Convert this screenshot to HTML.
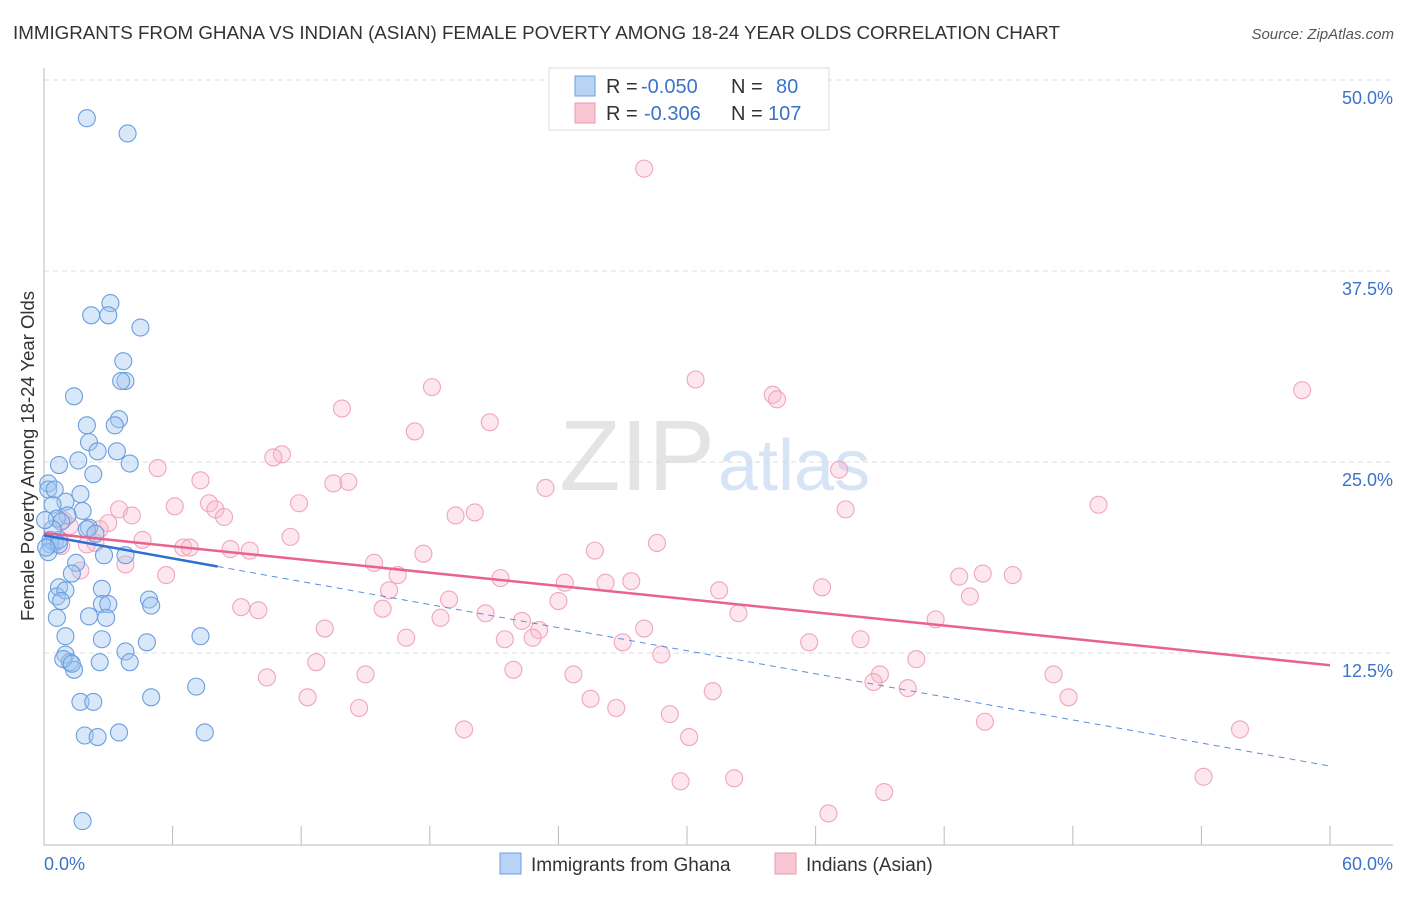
<!DOCTYPE html>
<html><head><meta charset="utf-8">
<style>
body{margin:0;background:#fff;font-family:"Liberation Sans",sans-serif;}
svg text{font-family:"Liberation Sans",sans-serif;}
</style></head>
<body>
<svg id="chart" width="1406" height="892" viewBox="0 0 1406 892" xmlns="http://www.w3.org/2000/svg">
<text x="13" y="39" font-size="18.8" fill="#333" textLength="1047">IMMIGRANTS FROM GHANA VS INDIAN (ASIAN) FEMALE POVERTY AMONG 18-24 YEAR OLDS CORRELATION CHART</text>
<text x="1394" y="39" font-size="15" font-style="italic" fill="#555" text-anchor="end">Source: ZipAtlas.com</text>
<text x="715" y="490" font-size="100" fill="#e4e4e4" text-anchor="end" font-family="Liberation Serif">ZIP</text>
<text x="718" y="490" font-size="72" fill="#d6e4f5">atlas</text>
<g id="grid"></g>
<g id="axes"></g>
<g id="pinkPts"></g>
<g id="bluePts"></g>
<g id="trends"></g>
<text transform="translate(34,456) rotate(-90)" font-size="18.5" fill="#333" text-anchor="middle">Female Poverty Among 18-24 Year Olds</text>
<g>
<rect x="549" y="68" width="280" height="62" fill="#fff" stroke="#ddd"/>
<rect x="575" y="76" width="20" height="20" fill="#b8d3f3" stroke="#6a9fe0"/>
<rect x="575" y="103" width="20" height="20" fill="#f9c6d4" stroke="#ea9ab4"/>
<text x="606" y="93" font-size="20" fill="#333">R = <tspan x="641" fill="#3b73c9">-0.050</tspan><tspan x="731">N = </tspan><tspan x="776" fill="#3b73c9">80</tspan></text>
<text x="606" y="120" font-size="20" fill="#333">R = <tspan x="644" fill="#3b73c9">-0.306</tspan><tspan x="731">N = </tspan><tspan x="768" fill="#3b73c9">107</tspan></text>
</g>
<g>
<rect x="500" y="853" width="21" height="21" fill="#b8d3f3" stroke="#6a9fe0"/>
<text x="531" y="871" font-size="19" fill="#333">Immigrants from Ghana</text>
<rect x="775" y="853" width="21" height="21" fill="#f9c6d4" stroke="#ea9ab4"/>
<text x="806" y="871" font-size="19" fill="#333">Indians (Asian)</text>
</g>
</svg>
<script>
const xTicks=[0,60];
const xTickLabels=["0.0%","60.0%"];
const yTicks=[12.5,25,37.5,50];
const yTickLabels=["12.5%","25.0%","37.5%","50.0%"];
const blueX=[2.0,3.9,3.1,2.2,3.0,4.5,3.7,3.8,3.6,1.4,2.0,3.5,3.3,2.1,2.5,3.4,1.6,0.7,4.0,2.3,0.2,0.2,1.7,1.0,0.4,1.8,1.1,0.6,0.8,2.1,2.0,2.4,0.3,0.5,0.3,0.7,3.8,2.8,1.5,1.3,0.7,0.6,1.0,2.7,0.8,2.7,3.0,4.9,5.0,2.1,0.6,2.9,1.0,2.7,4.8,7.3,1.0,3.8,1.2,1.4,2.6,4.0,1.7,2.3,5.0,7.1,1.9,2.5,3.5,7.5,1.8,0.2,0.4,0.05,0.9,1.3,0.7,0.1,0.5];
const blueY=[47.5,46.5,35.4,34.6,34.6,33.8,31.6,30.3,30.3,29.3,27.4,27.8,27.4,26.3,25.7,25.7,25.1,24.8,24.9,24.2,23.6,23.2,22.9,22.4,22.2,21.8,21.5,21.3,21.1,20.7,20.6,20.3,19.9,19.7,19.6,19.9,18.9,18.9,18.4,17.7,16.8,16.2,16.6,16.7,15.9,15.7,15.7,16.0,15.6,14.9,14.8,14.8,13.6,13.4,13.2,13.6,12.4,12.6,11.9,11.4,11.9,11.9,9.3,9.3,9.6,10.3,7.1,7.0,7.3,7.3,1.5,19.1,20.6,21.2,12.1,11.8,19.6,19.4,23.2];
const pinkX=[28.0,58.7,30.4,18.1,34.0,34.2,13.9,20.8,17.3,11.1,10.7,5.3,7.3,37.1,14.2,13.5,23.4,49.2,6.1,7.7,8.0,8.4,20.1,19.2,37.4,11.9,3.5,4.1,3.0,0.9,1.2,11.5,4.6,2.4,2.0,0.8,6.5,6.8,8.7,9.6,28.6,25.7,17.7,3.8,1.7,5.7,15.4,16.5,21.3,24.3,26.2,27.4,31.5,36.3,42.7,43.8,45.2,16.1,18.9,43.2,9.2,10.0,15.8,24.0,20.6,18.5,32.4,41.6,22.3,23.1,13.1,16.9,21.5,22.8,27.0,28.0,35.7,38.1,28.8,40.7,12.7,47.1,10.4,15.0,21.9,24.7,39.0,38.7,12.3,31.2,40.3,47.8,25.5,14.7,26.7,29.2,19.6,43.9,55.8,30.1,29.7,32.2,54.1,39.2,36.6,2.6];
const pinkY=[44.2,29.7,30.4,29.9,29.4,29.1,28.5,27.6,27.0,25.5,25.3,24.6,23.8,24.5,23.7,23.6,23.3,22.2,22.1,22.3,21.9,21.4,21.7,21.5,21.9,22.3,21.9,21.5,21.0,21.2,20.8,20.1,19.9,19.7,19.6,19.5,19.4,19.4,19.3,19.2,19.7,19.2,19.0,18.3,17.9,17.6,18.4,17.6,17.4,17.1,17.1,17.2,16.6,16.8,17.5,17.7,17.6,16.6,16.0,16.2,15.5,15.3,15.4,15.9,15.1,14.8,15.1,14.7,14.6,14.0,14.1,13.5,13.4,13.5,13.2,14.1,13.2,13.4,12.4,12.1,11.9,11.1,10.9,11.1,11.4,11.1,11.1,10.6,9.6,10.0,10.2,9.6,9.5,8.9,8.9,8.5,7.5,8.0,7.5,7.0,4.1,4.3,4.4,3.4,2.0,20.6];
const pinkTrend=[20.35,11.7];
const blueTrend=[20.2,5.1];
const blueSolidEnd=8.1;

const X0=44,X1=1330,Y0=844,YPX=15.28;
const sx=v=>X0+(v-xTicks[0])/(xTicks[1]-xTicks[0])*(X1-X0);
const sy=v=>Y0-v*YPX;
const NS="http://www.w3.org/2000/svg";
function mk(tag,parent,attrs){const e=document.createElementNS(NS,tag);for(const k in attrs)e.setAttribute(k,attrs[k]);parent.appendChild(e);return e;}
const grid=document.getElementById('grid');
yTicks.forEach((t,i)=>{
  const l=mk('line',grid,{x1:X0,x2:1393,y1:sy(t),y2:sy(t),stroke:'#ddd','stroke-dasharray':'5,4'});
  
  
  const tx=mk('text',grid,{x:1393,y:sy(t)+24,'font-size':18,fill:'#3b73c9','text-anchor':'end'});
  tx.textContent=yTickLabels[i];
  
  
});
const axes=document.getElementById('axes');
mk('line',axes,{x1:X0,x2:X0,y1:68,y2:Y0+1,stroke:'#bbb'});
mk('line',axes,{x1:X0,x2:1393,y1:Y0+1,y2:Y0+1,stroke:'#bbb'});
for(let i=1;i<=10;i++){const xv=xTicks[0]+i*(xTicks[1]-xTicks[0])/10;mk('line',axes,{x1:sx(xv),x2:sx(xv),y1:826,y2:845,stroke:'#bbb'});}
xTicks.forEach((t,i)=>{
  const tx=mk('text',axes,{x:i==0?44:1393,y:870,'font-size':18,fill:'#3b73c9','text-anchor':i==0?'start':'end'});
  tx.textContent=xTickLabels[i];
  
  
});
const pg=document.getElementById('pinkPts');
pinkX.forEach((x,i)=>{
  const c=mk('circle',pg,{cx:sx(x),cy:sy(pinkY[i]),r:8.5,fill:'rgba(248,182,202,0.35)',stroke:'#efa6bd','stroke-width':1.1});
  
  
});
const bg=document.getElementById('bluePts');
blueX.forEach((x,i)=>{
  const c=mk('circle',bg,{cx:sx(x),cy:sy(blueY[i]),r:8.5,fill:'rgba(160,198,240,0.4)',stroke:'#6a9ee0','stroke-width':1.1});
  
  
});
const tg=document.getElementById('trends');
const bAt=v=>blueTrend[0]+(blueTrend[1]-blueTrend[0])*v/60;
const l1=mk('line',tg,{x1:sx(0),y1:sy(pinkTrend[0]),x2:sx(60),y2:sy(pinkTrend[1]),stroke:'#e8638f','stroke-width':2.5});


const l2=mk('line',tg,{x1:sx(0),y1:sy(bAt(0)),x2:sx(blueSolidEnd),y2:sy(bAt(blueSolidEnd)),stroke:'#2f6fd0','stroke-width':2.5});


const l3=mk('line',tg,{x1:sx(blueSolidEnd),y1:sy(bAt(blueSolidEnd)),x2:sx(60),y2:sy(bAt(60)),stroke:'#5b8fd8','stroke-width':1,'stroke-dasharray':'6,5'});


</script>
</body></html>
